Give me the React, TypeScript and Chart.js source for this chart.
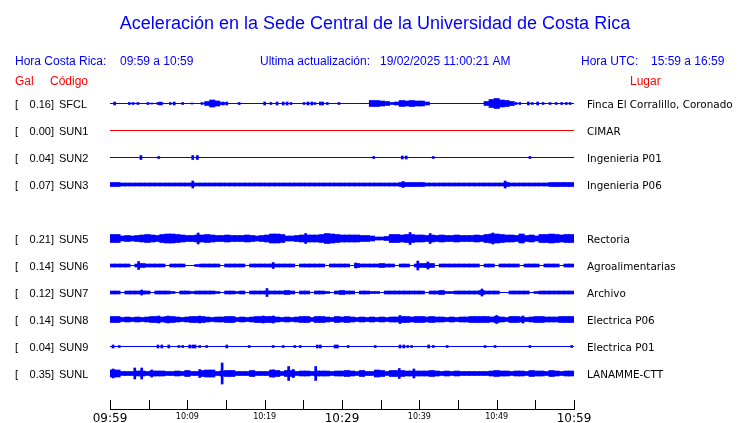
import React, { useEffect, useRef } from "react";
import { Chart, registerables } from "chart.js";

Chart.register(...registerables);

// ---------- texts ----------
const TITLE = "Aceleración en la Sede Central de la Universidad de Costa Rica";
const LOCAL_LABEL = "Hora Costa Rica:";
const LOCAL_RANGE = "09:59 a 10:59";
const UPDATE_LABEL = "Ultima actualización:";
const UPDATE_TIME = "19/02/2025 11:00:21 AM";
const UTC_LABEL = "Hora UTC:";
const UTC_RANGE = "15:59 a 16:59";
const COL_GAL = "Gal";
const COL_CODE = "Código";
const COL_PLACE = "Lugar";

// ---------- stations (one slot per row, "" = empty row) ----------
const CODES = ["SFCL", "SUN1", "SUN2", "SUN3", "", "SUN5", "SUN6", "SUN7", "SUN8", "SUN9", "SUNL"];
const PGA = ["0.16", "0.00", "0.04", "0.07", "", "0.21", "0.14", "0.12", "0.14", "0.04", "0.35"];
const PLACES = [
  "Finca El Corralillo, Coronado",
  "CIMAR",
  "Ingenieria P01",
  "Ingenieria P06",
  "",
  "Rectoria",
  "Agroalimentarias",
  "Archivo",
  "Electrica P06",
  "Electrica P01",
  "LANAMME-CTT",
];

// ---------- time axis (minutes since 09:59) ----------
const WINDOW_MIN = 60;
const TICK_MINUTES = [0, 5, 10, 15, 20, 25, 30, 35, 40, 45, 50, 55, 60];
const LABEL_MINUTES = [0, 10, 20, 30, 40, 50, 60];
const TICK_LABELS = ["09:59", "10:09", "10:19", "10:29", "10:39", "10:49", "10:59"];
const MAJOR_LABELS = ["09:59", "10:29", "10:59"];

// ---------- waveform envelopes (93 equal bins over the hour, relative amplitude) ----------
const SFCL_BAND = [
  0, 0, 0, 0, 0, 0, 0, 0, 0, 0,
  0, 0, 0, 0, 0, 0, 0, 0, 0, 2,
  3.5, 2.5, 1, 0, 0, 0, 0, 0, 0, 0,
  0, 0, 0, 0, 0, 0, 0, 0, 0, 0,
  0, 0, 0, 0, 0, 0, 0, 0, 0, 0,
  0, 0, 3, 3, 2.5, 2, 1, 1.5, 3, 2.5,
  3, 2.5, 2.5, 1.5, 0, 0, 0, 0, 0, 0,
  0, 0, 0, 0, 0, 2, 4, 5, 3.5, 3,
  2, 0, 0, 0, 0, 0, 0, 0, 0, 0,
  0, 0, 0,
];
const SUN3_BAND = [
  2, 2, 1.5, 1.5, 1.5, 1.5, 1.5, 1.5, 1.5, 1.5,
  1.5, 1.5, 1.5, 1.5, 1.5, 1.5, 1.5, 1.5, 1.5, 1.5,
  1.5, 1.5, 1.5, 1.5, 1.5, 1.5, 1.5, 1.5, 1.5, 1.5,
  1.5, 1.5, 1.5, 1.5, 1.5, 1.5, 1.5, 1.5, 1.5, 1.5,
  1.5, 1.5, 1.5, 1.5, 1.5, 1.5, 1.5, 1.5, 1.5, 1.5,
  1.5, 1.5, 1.5, 1.5, 1.5, 1.5, 1.5, 1.5, 2, 2,
  2, 2, 2, 1.5, 1.5, 1.5, 1.5, 1.5, 1.5, 1.5,
  1.5, 1.5, 1.5, 1.5, 1.5, 1.5, 1.5, 1.5, 1.5, 2,
  1.5, 1.5, 1.5, 1.5, 1.5, 1.5, 1.5, 1.5, 2, 2,
  2, 2, 2,
];
const SUN5_BAND = [
  4, 4, 2.5, 3, 2.5, 3, 3.5, 4, 3.5, 3,
  4, 4.5, 4.5, 4, 3.5, 3, 3, 3.5, 3.5, 4,
  3.5, 3, 3, 3.5, 3, 3, 3, 3.5, 3, 2.5,
  3, 3.5, 4.5, 4.5, 4, 2.5, 2.5, 3, 3.5, 3.5,
  3.5, 3.5, 4, 5, 4.5, 4, 3.5, 3.5, 3.5, 3.5,
  3, 3, 2.5, 1.5, 1.5, 2, 4, 4, 3.5, 4,
  4, 3.5, 3.5, 3, 3.5, 3, 3.5, 3, 3, 3.5,
  3, 3, 3, 3.5, 3, 4, 4.5, 4.5, 4, 3.5,
  3.5, 3, 4.5, 3, 3.5, 2.5, 4, 4, 4.5, 4,
  3.5, 4, 4,
];
const SUN6_BAND = [
  1.5, 1.5, 1.5, 1.5, 0.5, 1.5, 2, 1.5, 1.5, 1.5,
  1.5, 0.5, 1.5, 1.5, 1.5, 0.5, 0, 1, 1.5, 1.5,
  1.5, 1.5, 0.5, 1.5, 1.5, 1.5, 1.5, 0.5, 1.5, 1.5,
  1.5, 1.5, 1.5, 1.5, 1.5, 1.5, 1.5, 0.5, 1.5, 1.5,
  1.5, 1.5, 1.5, 0.5, 1.5, 1.5, 1.5, 1.5, 0.5, 2,
  1.5, 1.5, 1.5, 1.5, 2, 1.5, 1.5, 0.5, 1.5, 1.5,
  0.5, 1.5, 2, 2, 2, 0.5, 1.5, 1.5, 1.5, 1.5,
  1.5, 1.5, 1.5, 1.5, 0.5, 1.5, 1.5, 0.5, 1.5, 1.5,
  1.5, 1.5, 0.5, 1.5, 1.5, 1.5, 0.5, 1.5, 1.5, 1.5,
  0.5, 1.5, 1.5,
];
const SUN7_BAND = [
  1.5, 1.5, 0.5, 1.5, 1.5, 1.5, 1.5, 1.5, 0.5, 1.5,
  1.5, 1.5, 1, 0.5, 1.5, 1.5, 1, 1.5, 1.5, 1.5,
  1.5, 1, 0.5, 1.5, 1.5, 1, 1.5, 0.5, 1.5, 1.5,
  1.5, 1.5, 1.5, 1.5, 1.5, 2, 1.5, 0.5, 1.5, 1.5,
  0.5, 1.5, 1.5, 1, 0.5, 1.5, 2, 1.5, 1.5, 0.5,
  1.5, 1.5, 1, 1, 0.5, 1.5, 1.5, 1.5, 1.5, 1.5,
  1.5, 1.5, 1.5, 0.5, 1.5, 1.5, 2, 1, 1, 1.5,
  1.5, 1.5, 1.5, 1.5, 2, 1.5, 1.5, 1.5, 0, 0.5,
  1.5, 1.5, 1.5, 1.5, 0.5, 1, 1.5, 1.5, 1.5, 1.5,
  1.5, 1.5, 1.5,
];
const SUN8_BAND = [
  3, 3, 2, 2.5, 2, 2.5, 2, 2.5, 3, 3,
  2.5, 3, 3, 2.5, 2, 2.5, 3, 3, 3, 2.5,
  2, 2.5, 2.5, 3, 3, 2, 2.5, 2, 2.5, 3,
  3, 3, 3, 2.5, 2, 2.5, 2, 2.5, 3, 3,
  2, 3, 3, 2.5, 2, 3, 2.5, 3, 2.5, 2,
  2.5, 2, 2.5, 2, 2.5, 2, 2.5, 2.5, 3, 3,
  2.5, 3, 3, 2.5, 3, 2.5, 2.5, 2, 2.5, 2,
  2.5, 2.5, 3, 3, 3, 3, 2.5, 3, 2.5, 2,
  3, 3, 2.5, 2, 2.5, 3, 3, 2.5, 2.5, 2.5,
  3, 3, 3,
];
const SUNL_BAND = [
  3.5, 3.5, 2, 2, 2, 2.5, 2.5, 2, 2.5, 2.5,
  2.5, 2, 2, 2.5, 2, 3, 2, 2, 3, 3.5,
  3.5, 2, 2.5, 3, 3, 2, 2, 2, 3, 2,
  2, 2, 3.5, 3, 2, 3, 3, 2, 2.5, 2.5,
  2, 2.5, 2.5, 2.5, 2, 2.5, 2.5, 3, 2.5, 2,
  3, 2, 2, 3.5, 3, 2, 3, 3, 3, 2.5,
  2.5, 2.5, 2.5, 2.5, 3, 2.5, 2, 2.5, 2, 2.5,
  2, 2, 2, 2, 2, 2, 2.5, 3, 2.5, 2.5,
  2, 2.5, 2.5, 2, 3, 2.5, 2.5, 2, 3, 2.5,
  2, 2.5, 2.5,
];

// ---------- isolated peaks: [minute, relative amplitude] ----------
const SFCL_PEAKS = [
  [0.6, 1.5], [2.5, 1], [3.0, 1], [3.6, 1], [4.9, 1], [5.4, 0.5], [6.2, 1], [6.5, 1.5],
  [6.7, 1], [7.8, 1], [8.3, 1.5], [9.4, 1], [10.6, 0.5], [11.9, 1], [14.6, 1.5], [15.1, 1.5],
  [16.7, 1], [20.0, 1.5], [20.8, 1], [21.6, 1.5], [22.4, 1.5], [22.9, 1.5], [23.4, 1],
  [25.1, 1], [25.6, 1.5], [26.1, 1.5], [26.5, 1], [27.2, 1.5], [27.5, 1.5], [28.1, 1],
  [29.6, 1], [52.1, 1.5], [52.5, 1], [53.0, 1], [54.1, 1.5], [54.6, 1], [55.3, 1.5],
  [56.0, 1], [56.9, 1], [57.7, 1], [58.4, 1], [59.0, 1], [59.5, 1],
];
const SUN2_PEAKS = [
  [4.0, 2], [6.3, 1], [10.7, 2], [11.3, 2], [34.1, 1], [37.8, 1.5], [38.3, 1.5], [41.8, 1], [54.3, 1],
];
const SUN3_PEAKS = [[10.7, 3.5], [37.9, 3], [51.1, 3.5]];
const SUN5_PEAKS = [[11.4, 5.5], [25.3, 5], [38.8, 6], [41.4, 5], [49.5, 5.5]];
const SUN6_PEAKS = [[3.7, 4], [21.1, 3], [31.8, 2.5], [39.8, 4.5], [41.1, 3.5]];
const SUN7_PEAKS = [[4.1, 2.5], [20.3, 4], [48.1, 3.5]];
const SUN8_PEAKS = [[6.3, 3.5], [7.5, 3.5], [11.6, 3.5], [19.8, 3.5], [21.1, 3.5], [37.5, 4], [50.0, 4], [53.4, 3.5]];
const SUN9_PEAKS = [
  [0.4, 1.5], [1.2, 1], [6.2, 1.5], [6.7, 1.5], [7.6, 1.5], [8.9, 1], [9.4, 1], [10.3, 1.5],
  [10.7, 1.5], [11.0, 1.5], [11.6, 1], [12.5, 1], [15.1, 1.5], [18.0, 1], [21.1, 1], [22.4, 1],
  [23.9, 1], [24.6, 1], [26.8, 1.5], [27.2, 1.5], [29.1, 1.5], [29.4, 1.5], [30.8, 1], [34.3, 1],
  [37.5, 1.5], [38.0, 1.5], [38.5, 1], [39.0, 1], [41.2, 1.5], [41.8, 1], [43.6, 1], [48.5, 1],
  [49.8, 1], [54.3, 1], [59.7, 1],
];
const SUNL_PEAKS = [
  [0.4, 4.5], [3.2, 5.5], [4.1, 5.5], [5.4, 3.5], [11.6, 4], [14.5, 10.5], [21.1, 3.5],
  [23.1, 7], [23.7, 4], [26.6, 7], [37.4, 5], [39.3, 4.5],
];

const BANDS: Record<string, number[]> = {
  SFCL: SFCL_BAND, SUN3: SUN3_BAND, SUN5: SUN5_BAND, SUN6: SUN6_BAND,
  SUN7: SUN7_BAND, SUN8: SUN8_BAND, SUNL: SUNL_BAND,
};
const PEAKS: Record<string, number[][]> = {
  SFCL: SFCL_PEAKS, SUN2: SUN2_PEAKS, SUN3: SUN3_PEAKS, SUN5: SUN5_PEAKS, SUN6: SUN6_PEAKS,
  SUN7: SUN7_PEAKS, SUN8: SUN8_PEAKS, SUN9: SUN9_PEAKS, SUNL: SUNL_PEAKS,
};

// ---------- styling ----------
const BLUE = "#0000ff";
const RED = "#ff0000";
const AMP = 1 / 27; // relative amplitude -> row units
const W = 740;
const H = 423;

function buildDatasets() {
  const ds: any[] = [];
  CODES.forEach((code, r) => {
    if (!code) return;
    const color = code === "SUN1" ? RED : BLUE;
    ds.push({
      type: "line",
      data: [{ x: 0, y: r }, { x: WINDOW_MIN, y: r }],
      borderColor: color,
      borderWidth: 1,
      pointRadius: 0,
      order: 3,
    });
    const band = BANDS[code];
    if (band) {
      ds.push({
        type: "bar",
        data: band
          .map((a, i) => ({ x: ((i + 0.5) * WINDOW_MIN) / band.length, y: [r - a * AMP, r + a * AMP], a }))
          .filter((d) => d.a > 0.5),
        backgroundColor: color,
        borderWidth: 0,
        barThickness: 5.4,
        grouped: false,
        order: 2,
      });
    }
    const peaks = PEAKS[code];
    if (peaks) {
      ds.push({
        type: "bar",
        data: peaks.map(([m, a]) => ({ x: m, y: [r - a * AMP, r + a * AMP] })),
        backgroundColor: color,
        borderWidth: 0,
        barThickness: 2,
        grouped: false,
        order: 1,
      });
    }
  });
  return ds;
}

const decorPlugin = {
  id: "decor",
  afterDraw(chart: any) {
    const ctx = chart.ctx as CanvasRenderingContext2D;
    const xs = chart.scales.x;
    const ys = chart.scales.y;
    ctx.save();

    // title + headers
    ctx.textAlign = "center";
    ctx.textBaseline = "alphabetic";
    ctx.fillStyle = BLUE;
    ctx.font = "18px 'Liberation Sans', Arial, sans-serif";
    ctx.fillText(TITLE, 375, 29);

    ctx.textAlign = "left";
    ctx.font = "12px 'Liberation Sans', Arial, sans-serif";
    ctx.fillText(LOCAL_LABEL, 15, 65);
    ctx.fillText(LOCAL_RANGE, 120, 65);
    ctx.fillText(UPDATE_LABEL, 260, 65);
    ctx.fillText(UPDATE_TIME, 380, 65);
    ctx.fillText(UTC_LABEL, 581, 65);
    ctx.fillText(UTC_RANGE, 651, 65);

    ctx.fillStyle = RED;
    ctx.fillText(COL_GAL, 15, 85);
    ctx.fillText(COL_CODE, 50, 85);
    ctx.fillText(COL_PLACE, 630, 85);

    // row labels
    CODES.forEach((code, r) => {
      if (!code) return;
      const y = Math.round(ys.getPixelForValue(r)) + 4;
      ctx.fillStyle = "#000";
      ctx.font = "11px 'Liberation Sans', Arial, sans-serif";
      ctx.textAlign = "left";
      ctx.fillText("[", 15, y);
      ctx.textAlign = "right";
      ctx.fillText(PGA[r] + "]", 54, y);
      ctx.textAlign = "left";
      ctx.fillText(code, 59, y);
      ctx.font = "10.4px 'DejaVu Sans', sans-serif";
      ctx.fillText(PLACES[r], 587, y);
    });

    // time axis
    const axisY = 409.5;
    ctx.strokeStyle = "#000";
    ctx.lineWidth = 1;
    ctx.beginPath();
    ctx.moveTo(Math.round(xs.getPixelForValue(0)), axisY);
    ctx.lineTo(Math.round(xs.getPixelForValue(WINDOW_MIN)) + 1, axisY);
    TICK_MINUTES.forEach((m) => {
      const px = Math.round(xs.getPixelForValue(m)) + 0.5;
      ctx.moveTo(px, 400);
      ctx.lineTo(px, axisY);
    });
    ctx.stroke();

    ctx.fillStyle = "#000";
    ctx.textAlign = "center";
    LABEL_MINUTES.forEach((m, i) => {
      const label = TICK_LABELS[i];
      const px = xs.getPixelForValue(m);
      if (MAJOR_LABELS.includes(label)) {
        ctx.font = "12px 'DejaVu Sans', sans-serif";
        ctx.fillText(label, px, 422);
      } else {
        ctx.font = "8px 'DejaVu Sans', sans-serif";
        ctx.fillText(label, px, 419);
      }
    });
    ctx.restore();
  },
};

export default function App() {
  const ref = useRef<HTMLCanvasElement | null>(null);
  useEffect(() => {
    if (!ref.current) return;
    const half = 0.5 / 27;
    const chart = new Chart(ref.current, {
      type: "bar",
      data: { datasets: buildDatasets() },
      options: {
        animation: false,
        responsive: false,
        events: [],
        layout: { padding: { left: 110, right: 166, top: 76, bottom: 23 } },
        plugins: { legend: { display: false }, tooltip: { enabled: false } },
        scales: {
          x: { type: "linear", min: 0, max: WINDOW_MIN, display: false, offset: false },
          y: { type: "linear", min: -1 - half, max: 11 - half, reverse: true, display: false },
        },
      },
      plugins: [decorPlugin],
    } as any);
    return () => chart.destroy();
  }, []);
  return (
    <div style={{ position: "fixed", left: 0, top: 0, width: W, height: H, background: "#fff" }}>
      <canvas ref={ref} width={W} height={H} style={{ display: "block", width: W, height: H }} />
    </div>
  );
}
